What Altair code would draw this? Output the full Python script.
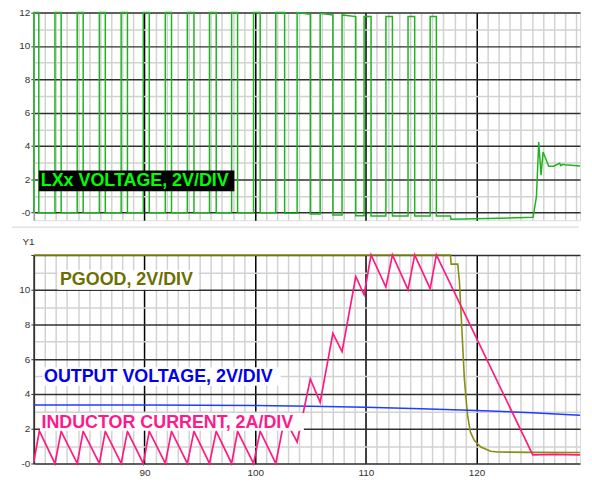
import altair as alt
import pandas as pd

# ---------------- data ----------------
# LXx voltage (top panel): time / volts, edges given as repeated times
lx_t = [80.0, 80.0, 80.45, 80.45,
        81.91, 81.91, 82.47, 82.47,
        83.92, 83.92, 84.46, 84.46,
        85.92, 85.92, 86.46, 86.46,
        87.89, 87.89, 88.46, 88.46,
        89.89, 89.89, 90.43, 90.43,
        91.88, 91.88, 92.44, 92.44,
        93.87, 93.87, 94.47, 94.47,
        95.87, 95.87, 96.48, 96.48,
        97.87, 97.87, 98.41, 98.41,
        99.85, 99.85, 100.45, 100.45,
        101.86, 101.86, 102.66, 102.66,
        103.79, 103.79, 104.98, 104.98,
        105.87, 105.87, 107.02, 107.02,
        107.85, 107.85, 109.09, 109.09,
        109.84, 109.84, 110.47, 110.47,
        111.81, 111.81, 112.40, 112.40,
        113.81, 113.81, 114.41, 114.41,
        115.81, 115.81, 116.37, 116.37,
        117.64, 117.70, 125.11, 125.41, 125.62, 125.83, 126.01,
        126.52, 126.97, 127.51, 127.62, 127.80, 128.01, 129.35]
lx_v = [0, 12, 12, 0,
        0, 12, 12, 0,
        0, 12, 12, 0,
        0, 12, 12, 0,
        0, 12, 12, 0,
        0, 12, 12, 0,
        0, 12, 12, 0,
        0, 12, 12, 0,
        0, 12, 12, 0,
        0, 12, 12, 0,
        0, 12, 12, 0,
        0, 12, 12, -0.04,
        -0.04, 12, 11.9, -0.08,
        -0.08, 11.96, 11.86, -0.14,
        -0.14, 11.86, 11.76, -0.18,
        -0.18, 11.76, 11.76, -0.2,
        -0.2, 11.76, 11.76, -0.2,
        -0.2, 11.76, 11.76, -0.2,
        -0.2, 11.76, 11.76, -0.2,
        -0.2, -0.4, -0.28, 0.96, 4.24, 2.25, 3.64,
        2.79, 2.79, 2.96, 2.82, 2.9, 2.87, 2.8]

# Inductor current (bottom panel)
il_t = [80.0, 80.5, 81.91, 82.47, 83.92, 84.46, 85.92, 86.46, 87.89, 88.46,
        89.89, 90.43, 91.88, 92.44, 93.87, 94.47, 95.87, 96.48, 97.87, 98.41,
        99.85, 100.45, 101.86, 102.66, 103.79, 104.98, 105.87, 107.02, 107.85,
        109.09, 109.84, 110.47, 111.81, 112.40, 113.81, 114.41, 115.81, 116.37,
        125.08, 127.0, 129.35]
il_v = [0.1, 1.87, 0, 1.85, 0, 1.85, 0, 1.85, 0, 1.85,
        0, 1.85, 0, 1.85, 0, 1.85, 0, 1.85, 0, 1.85,
        0, 1.85, 0, 2.6, 1.24, 4.86, 3.52, 7.49, 6.44,
        10.76, 9.71, 12.0, 10.15, 12.0, 10.0, 12.0, 10.06, 12.0,
        0.5, 0.52, 0.5]

# PGOOD
pg_t = [80.0, 117.64, 117.70, 118.30, 118.45, 118.60, 118.90, 119.19, 119.45,
        119.79, 120.39, 121.28, 121.90, 125.0, 129.35]
pg_v = [12.0, 12.0, 11.47, 11.47, 10.5, 8.67, 4.86, 2.76, 1.8,
        1.33, 0.95, 0.70, 0.66, 0.64, 0.63]

# Output voltage
vo_t = [80.0, 90.0, 100.0, 105.0, 110.0, 115.0, 120.0, 125.0, 129.35]
vo_v = [3.37, 3.36, 3.33, 3.30, 3.24, 3.15, 3.05, 2.92, 2.78]

# axis definitions
x_domain = [80, 129.35]
x_grid_values = list(range(80, 130))
y_grid_values = list(range(0, 13))

# ---------------- styling ----------------
W = 550
H_TOP = 209
H_BOT = 210
FONT = "Liberation Sans"
LBL = "#333333"

def df(t, v):
    return pd.DataFrame({"t": t, "v": v, "i": list(range(len(t)))})

one = pd.DataFrame({"k": [0]})

def x_enc(bottom):
    if bottom:
        ax = alt.Axis(values=x_grid_values, tickCount=500, format="d", title=None, ticks=False,
                      domain=False,
                      labelExpr="datum.value % 10 === 0 && datum.value > 80 ? datum.label : ''",
                      labelOverlap=False, labelFlush=False, labelBound=False,
                      labelFont=FONT, labelFontSize=10, labelColor=LBL, labelPadding=4,
                      gridColor={"condition": {"test": "datum.value % 10 === 0", "value": "#000000"},
                                 "value": "#d2d2d2"},
                      gridWidth=1.5)
    else:
        ax = alt.Axis(values=x_grid_values, tickCount=500, title=None, ticks=False, domain=False,
                      labels=False,
                      gridColor={"condition": {"test": "datum.value % 10 === 0 && datum.value > 80",
                                               "value": "#000000"},
                                 "value": "#d2d2d2"},
                      gridWidth=1.5)
    return alt.X("t:Q", scale=alt.Scale(domain=x_domain, nice=False, zero=False), axis=ax)

def y_enc(bottom):
    if bottom:
        expr = "datum.value === 0 ? '-0' : (datum.value % 2 === 0 && datum.value < 12 ? datum.label : '')"
        dom = [0, 12]
        extra = dict(title="Y1", titleAngle=0, titleAlign="left", titleBaseline="middle",
                     titleX=-12, titleY=-14, titleFont=FONT, titleFontSize=10,
                     titleFontWeight="normal", titleColor=LBL, domainColor="#333333")
    else:
        expr = "datum.value === 0 ? '-0' : (datum.value % 2 === 0 ? datum.label : '')"
        dom = [-0.45, 12]
        extra = dict(title=None, domainColor="#a0a0a0")
    ax = alt.Axis(values=y_grid_values, tickCount=500, format="d", labelExpr=expr,
                  labelOverlap=False, labelFlush=False,
                  labelFont=FONT, labelFontSize=10, labelColor=LBL, labelPadding=1,
                  tickSize=3, tickColor=LBL,
                  tickOpacity={"condition": {"test": "datum.value % 2 === 0", "value": 1}, "value": 0},
                  gridColor={"condition": {"test": "datum.value % 2 === 0", "value": "#303030"},
                             "value": "#d2d2d2"},
                  gridWidth=1.5, domainWidth=1.5, **extra)
    return alt.Y("v:Q", scale=alt.Scale(domain=dom, nice=False, zero=False), axis=ax)

def label(text, color, tx, ty, box, bg):
    rect = alt.Chart(one).mark_rect(color=bg).encode(
        x=alt.datum(box[0]), x2=alt.datum(box[1]), y=alt.datum(box[2]), y2=alt.datum(box[3]))
    txt = alt.Chart(one).mark_text(text=text, color=color, font=FONT, fontSize=18,
                                   fontWeight="bold", align="left", baseline="middle").encode(
        x=alt.datum(tx), y=alt.datum(ty))
    return [rect, txt]

# ---------------- top panel ----------------
lx_line = alt.Chart(df(lx_t, lx_v)).mark_line(color="#1fb41f", strokeWidth=1.5).encode(
    x=x_enc(False), y=y_enc(False), order="i:Q")
sep = alt.Chart(one).mark_rule(color="#dcdcdc", strokeWidth=1.5).encode(
    x=alt.value(-22), x2=alt.value(W - 1), y=alt.value(H_TOP + 7))
top = alt.layer(
    lx_line,
    *label("LXx VOLTAGE, 2V/DIV", "#00ff00", 80.63, 1.9, [80.45, 98.12, 2.53, 1.28], "#000000"),
    sep,
).properties(width=W, height=H_TOP)

# ---------------- bottom panel ----------------
pg_line = alt.Chart(df(pg_t, pg_v)).mark_line(color="#8c8c10", strokeWidth=1.6).encode(
    x=x_enc(True), y=y_enc(True), order="i:Q")
vo_line = alt.Chart(df(vo_t, vo_v)).mark_line(color="#1f3cff", strokeWidth=1.5).encode(
    x=x_enc(True), y=y_enc(True), order="i:Q")
il_line = alt.Chart(df(il_t, il_v)).mark_line(color="#ff1a80", strokeWidth=1.7).encode(
    x=x_enc(True), y=y_enc(True), order="i:Q")

bottom = alt.layer(
    pg_line, vo_line, il_line,
    *label("PGOOD, 2V/DIV", "#6e6e00", 82.36, 10.57, [82.15, 94.89, 11.14, 10.0], "#ffffff"),
    *label("OUTPUT VOLTAGE, 2V/DIV", "#0000ee", 80.92, 4.97, [80.78, 102.3, 5.54, 4.47], "#ffffff"),
    *label("INDUCTOR CURRENT, 2A/DIV", "#ff1a8c", 80.69, 2.34, [80.56, 104.4, 2.91, 1.89], "#ffffff"),
).properties(width=W, height=H_BOT)

chart = alt.vconcat(top, bottom, spacing=35, bounds="flush").properties(
    padding={"left": 2, "top": -3, "right": 0, "bottom": 2}
).configure_view(stroke=None).configure(background="white")

chart.save("out.html", embed_options={"renderer": "svg", "actions": False})
